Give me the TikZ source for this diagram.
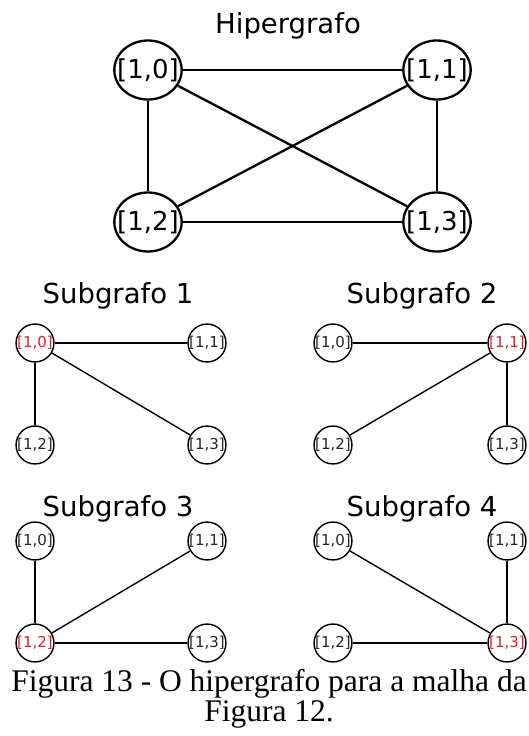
\documentclass[tikz,border=0pt]{standalone}
\usepackage{fontspec}
\setmainfont{Liberation Serif}
\newfontfamily\dejavu{DejaVu Sans}
\usetikzlibrary{shapes.geometric}
\definecolor{rootred}{RGB}{226,30,36}

\begin{document}
\begin{tikzpicture}[
    x=1pt, y=-1pt,
    bignode/.style={
        ellipse, draw, line width=2.3pt,
        minimum width=67pt,
        minimum height=59pt,
        inner xsep=-7pt, inner ysep=0pt,
        font=\dejavu\fontsize{26}{26}\selectfont
    },
    subnode/.style={
        circle, draw, line width=1.4pt,
        minimum size=37pt,
        inner sep=0pt,
        text=black!85,
        font=\dejavu\fontsize{15}{15}\selectfont
    },
    rootnode/.style={subnode, text=rootred},
    bigedge/.style={line width=2.3pt},
    subedge/.style={line width=1.4pt},
    titlelbl/.style={anchor=base, font=\dejavu\fontsize{27.5}{27.5}\selectfont},
    caplbl/.style={anchor=base, font=\fontsize{31.5}{31.5}\selectfont},
]

\fill[white] (0,0) rectangle (528,736);
\useasboundingbox (0,0) rectangle (528,736);

% hypergraph
\node[titlelbl] (thg) at (288,33) {Hipergrafo};
\node[bignode] (h10) at (148,70)  {[1,0]};
\node[bignode] (h11) at (437,70)  {[1,1]};
\node[bignode] (h12) at (148,222) {[1,2]};
\node[bignode] (h13) at (437,222) {[1,3]};

\draw[bigedge] (h10) -- (h11);
\draw[bigedge] (h12) -- (h13);
\draw[bigedge] (h10) -- (h12);
\draw[bigedge] (h11) -- (h13);
\draw[bigedge] (h10) -- (h13);
\draw[bigedge] (h11) -- (h12);

% subgraph 1
\node[titlelbl] (ta) at (118,303) {Subgrafo 1};
\node[rootnode] (a10) at (35,343)  {[1,0]};
\node[subnode]  (a11) at (207,343) {[1,1]};
\node[subnode]  (a12) at (35,445)  {[1,2]};
\node[subnode]  (a13) at (207,445) {[1,3]};

\draw[subedge] (a10) -- (a11);
\draw[subedge] (a10) -- (a12);
\draw[subedge] (a10) -- (a13);

% subgraph 2
\node[titlelbl] (tb) at (422,303) {Subgrafo 2};
\node[subnode]  (b10) at (333,343) {[1,0]};
\node[rootnode] (b11) at (507,343) {[1,1]};
\node[subnode]  (b12) at (333,445) {[1,2]};
\node[subnode]  (b13) at (507,445) {[1,3]};

\draw[subedge] (b11) -- (b10);
\draw[subedge] (b11) -- (b12);
\draw[subedge] (b11) -- (b13);

% subgraph 3
\node[titlelbl] (tc) at (118,516) {Subgrafo 3};
\node[subnode]  (c10) at (35,541)  {[1,0]};
\node[subnode]  (c11) at (207,541) {[1,1]};
\node[rootnode] (c12) at (35,643)  {[1,2]};
\node[subnode]  (c13) at (207,643) {[1,3]};

\draw[subedge] (c12) -- (c10);
\draw[subedge] (c12) -- (c11);
\draw[subedge] (c12) -- (c13);

% subgraph 4
\node[titlelbl] (td) at (422,516) {Subgrafo 4};
\node[subnode]  (d10) at (333,541) {[1,0]};
\node[subnode]  (d11) at (507,541) {[1,1]};
\node[subnode]  (d12) at (333,643) {[1,2]};
\node[rootnode] (d13) at (507,643) {[1,3]};

\draw[subedge] (d13) -- (d10);
\draw[subedge] (d13) -- (d11);
\draw[subedge] (d13) -- (d12);

% caption
\node[caplbl] (cap1) at (269,691) {Figura 13 - O hipergrafo para a malha da};
\node[caplbl] (cap2) at (269,721) {Figura 12.};

\end{tikzpicture}
\end{document}
